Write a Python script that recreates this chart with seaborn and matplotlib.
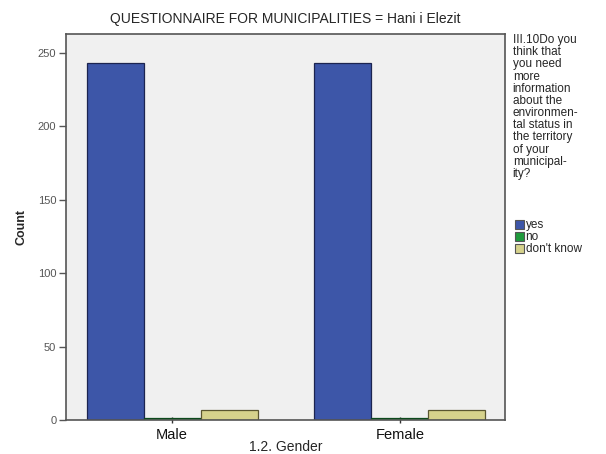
import matplotlib
matplotlib.use("Agg")
import matplotlib.pyplot as plt
import seaborn as sns
import pandas as pd
from matplotlib.patches import Patch

genders = ["Male", "Female"]
answers = ["yes", "no", "don't know"]
counts_male = [243, 1, 7]
counts_female = [243, 1, 7]
colors = ["#3d56a8", "#1f9a3c", "#d6d28c"]
edge_colors = ["#1c2450", "#0d4a1c", "#5a5630"]

rows = []
for g, vals in zip(genders, [counts_male, counts_female]):
    for a, v in zip(answers, vals):
        rows.append({"Gender": g, "Answer": a, "Count": v})
df = pd.DataFrame(rows)

sns.set_style("white")
plt.rcParams['font.family'] = ['Liberation Sans', 'DejaVu Sans']

fig = plt.figure(figsize=(6.06, 4.54), dpi=100)
ax = fig.add_axes([0.109, 0.075, 0.724, 0.850])
ax.set_facecolor("#f0f0f0")

sns.barplot(data=df, x="Gender", y="Count", hue="Answer", order=genders,
            hue_order=answers, palette=colors, width=0.75, ax=ax,
            errorbar=None, legend=False, saturation=1)
for i, cont in enumerate(ax.containers):
    for p in cont:
        p.set_edgecolor(edge_colors[i])
        p.set_linewidth(0.9)

ax.set_xlim(-0.465, 1.46)
ax.set_ylim(0, 263)
ax.set_yticks([0, 50, 100, 150, 200, 250])
ax.tick_params(axis="y", labelsize=8, colors="#555555", length=5, width=1,
               direction="out", left=True, labelcolor="#555555", pad=2)
ax.tick_params(axis="x", labelsize=10.5, length=5, width=1, direction="inout",
               bottom=True, colors="#333333", labelcolor="#111111", pad=3)
for s in ax.spines.values():
    s.set_color("#555555")
    s.set_linewidth(1.2)

ax.set_xlabel("1.2. Gender", fontsize=10)
ax.xaxis.set_label_coords(0.5, -0.052)
ax.set_ylabel("Count", fontsize=9, fontweight="bold")
ax.yaxis.set_label_coords(-0.088, 0.5)
ax.set_title("QUESTIONNAIRE FOR MUNICIPALITIES = Hani i Elezit", fontsize=10, pad=8)

fig.text(0.846, 0.925,
         "III.10Do you\nthink that\nyou need\nmore\ninformation\nabout the\nenvironmen-\ntal status in\nthe territory\nof your\nmunicipal-\nity?",
         fontsize=8.5, va="top", ha="left", linespacing=1.02)

handles = [Patch(facecolor=c, edgecolor="#555555", linewidth=0.8) for c in colors]
fig.legend(handles, answers, loc="upper left", bbox_to_anchor=(0.836, 0.535),
           frameon=False, fontsize=8.5, handlelength=0.8, handleheight=0.8,
           handletextpad=0.1, labelspacing=0.0, borderpad=0.2)

fig.savefig("out.png", dpi=100)
